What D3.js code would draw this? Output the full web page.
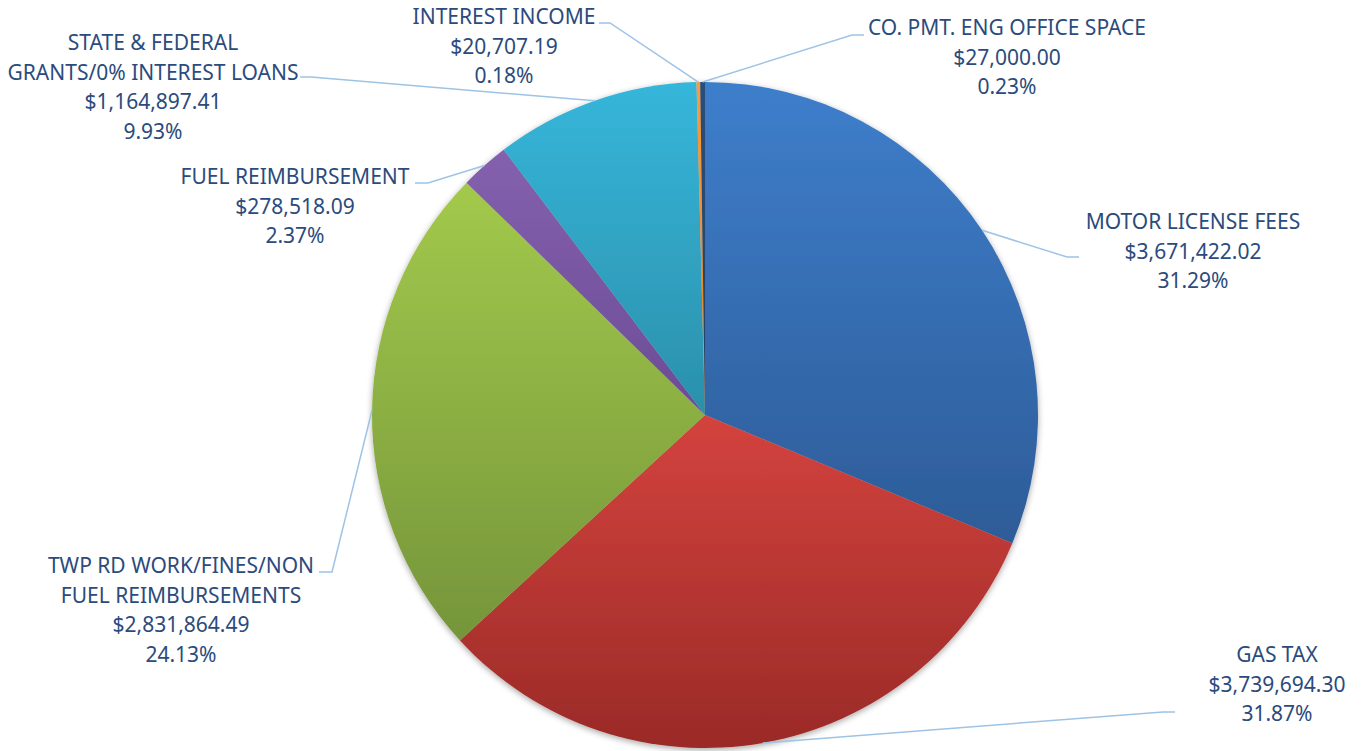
<!DOCTYPE html>
<html>
<head>
<meta charset="utf-8">
<script src="https://cdn.jsdelivr.net/npm/d3@7"></script>
<style>
  body { margin: 0; background: #fff; }
  text { font-family: "Noto Sans", "Open Sans", sans-serif; }
</style>
</head>
<body>
<div id="chart"></div>
<script>
// revenue sources, in pie order (clockwise from 12 o'clock)
const categories = ["MOTOR LICENSE FEES", "GAS TAX", "TWP RD WORK/FINES/NON FUEL REIMBURSEMENTS",
  "FUEL REIMBURSEMENT", "STATE & FEDERAL GRANTS/0% INTEREST LOANS", "INTEREST INCOME", "CO. PMT. ENG OFFICE SPACE"];
const amounts = [3671422.02, 3739694.30, 2831864.49, 278518.09, 1164897.41, 20707.19, 27000.00];
const labelLines = [["MOTOR LICENSE FEES"], ["GAS TAX"], ["TWP RD WORK/FINES/NON", "FUEL REIMBURSEMENTS"],
  ["FUEL REIMBURSEMENT"], ["STATE & FEDERAL", "GRANTS/0% INTEREST LOANS"], ["INTEREST INCOME"], ["CO. PMT. ENG OFFICE SPACE"]];
const colorTop    = ["#3E7ECB", "#D4433E", "#A3C94C", "#8460AE", "#36B6DA", "#F99B3F", "#2C4E7A"];
const colorBottom = ["#2D5C98", "#9A2A27", "#75953A", "#6C4C95", "#2B90AB", "#E07E22", "#223E63"];

// label layout: text centre x, first line y, leader elbow [x near pie, x at label, y]
const labelLayout = [
  {x: 1193, y: 222, elbow: [1067, 1079, 257]},
  {x: 1277, y: 655, elbow: [1163, 1175, 712]},
  {x: 181,  y: 566, elbow: [332, 319, 572]},
  {x: 295,  y: 177, elbow: [428, 415, 183]},
  {x: 153,  y: 43,  elbow: [311, 300, 77]},
  {x: 504,  y: 17,  elbow: [610, 599, 23]},
  {x: 1007, y: 28,  elbow: [852, 864, 35]}
];

const width = 1361, height = 751;
const cx = 705, cy = 415, radius = 333;
const lineH = 29.5;

const data = categories.map((c, i) => ({cat: c, value: amounts[i], i: i}));
const total = d3.sum(amounts);
const fmtMoney = d3.format("$,.2f");
const fmtPct = d3.format(".2%");

const svg = d3.select("#chart").append("svg")
    .attr("width", width)
    .attr("height", height);

const defs = svg.append("defs");
data.forEach(d => {
  const g = defs.append("linearGradient")
      .attr("id", "grad" + d.i)
      .attr("x1", 0).attr("y1", 0).attr("x2", 0).attr("y2", 1);
  g.append("stop").attr("offset", "0%").attr("stop-color", colorTop[d.i]);
  g.append("stop").attr("offset", "100%").attr("stop-color", colorBottom[d.i]);
});
const shadow = defs.append("filter").attr("id", "shadow")
    .attr("x", "-10%").attr("y", "-10%").attr("width", "120%").attr("height", "120%");
shadow.append("feDropShadow")
    .attr("dx", 0).attr("dy", 2).attr("stdDeviation", 3)
    .attr("flood-color", "#000").attr("flood-opacity", 0.35);

const pie = d3.pie().value(d => d.value).sort(null);
const arc = d3.arc().innerRadius(0).outerRadius(radius);
const arcs = pie(data);

const g = svg.append("g").attr("transform", `translate(${cx},${cy})`);

g.append("g").attr("filter", "url(#shadow)")
  .selectAll("path")
  .data(arcs)
  .join("path")
    .attr("d", arc)
    .attr("fill", d => `url(#grad${d.data.i})`);

// leader lines
svg.append("g")
  .selectAll("polyline")
  .data(arcs)
  .join("polyline")
    .attr("fill", "none")
    .attr("stroke", "#9DC3E6")
    .attr("stroke-width", 1.5)
    .attr("points", d => {
      const a = (d.startAngle + d.endAngle) / 2;
      const px = cx + radius * Math.sin(a), py = cy - radius * Math.cos(a);
      const e = labelLayout[d.data.i].elbow;
      return [[px, py], [e[0], e[2]], [e[1], e[2]]].join(" ");
    });

// data labels
const labels = svg.append("g")
  .selectAll("text")
  .data(data)
  .join("text")
    .attr("text-anchor", "middle")
    .attr("fill", "#2B4B7C")
    .attr("font-size", 21);

labels.each(function(d) {
  const lay = labelLayout[d.i];
  const lines = labelLines[d.i].concat([fmtMoney(d.value), fmtPct(d.value / total)]);
  d3.select(this).selectAll("tspan")
    .data(lines)
    .join("tspan")
      .attr("x", lay.x)
      .attr("y", (t, k) => lay.y + 7 + k * lineH)
      .text(t => t);
});
</script>
</body>
</html>
